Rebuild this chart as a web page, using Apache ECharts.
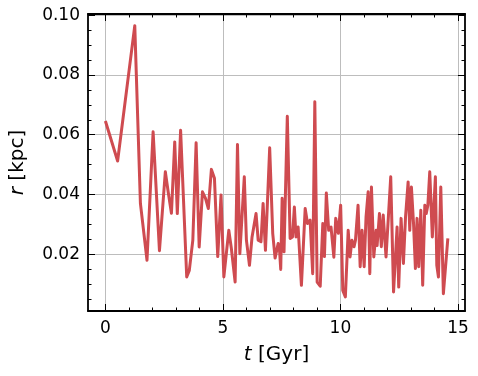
<!DOCTYPE html>
<html>
<head>
<meta charset="utf-8">
<script src="https://cdn.jsdelivr.net/npm/echarts@6/dist/echarts.min.js"></script>
<style>
html, body { margin: 0; padding: 0; background: #fff; }
#chart { width: 478px; height: 376px; }
</style>
</head>
<body>
<div id="chart"></div>
<script>
// t [Gyr] and r [kpc]
var times = [0.00, 0.52, 1.25, 1.49, 1.77, 2.03, 2.30, 2.55, 2.68, 2.81, 2.95, 3.06, 3.20, 3.46, 3.57, 3.72, 3.86, 3.99,
  4.13, 4.26, 4.38, 4.51, 4.64, 4.78, 4.92, 5.04, 5.25, 5.36, 5.52, 5.62, 5.72, 5.91, 6.00, 6.13, 6.24, 6.31, 6.41,
  6.50, 6.62, 6.71, 6.81, 6.99, 7.12, 7.22, 7.35, 7.40, 7.46, 7.52, 7.60, 7.74, 7.86, 7.96, 8.04, 8.11, 8.20, 8.34,
  8.50, 8.60, 8.71, 8.82, 8.91, 9.01, 9.14, 9.25, 9.32, 9.40, 9.50, 9.60, 9.72, 9.80, 9.91, 10.01, 10.10, 10.21,
  10.33, 10.41, 10.49, 10.58, 10.64, 10.75, 10.84, 10.92, 11.01, 11.09, 11.18, 11.25, 11.32, 11.42, 11.52, 11.56,
  11.66, 11.74, 11.82, 11.94, 12.02, 12.14, 12.26, 12.41, 12.48, 12.58, 12.68, 12.77, 12.88, 12.95, 13.02, 13.11,
  13.19, 13.26, 13.33, 13.42, 13.50, 13.59, 13.65, 13.72, 13.80, 13.91, 14.04, 14.10, 14.17, 14.27, 14.38, 14.57];
var radii = [0.0646, 0.0512, 0.0965, 0.0370, 0.0180, 0.0610, 0.0212, 0.0476, 0.0404, 0.0337, 0.0576, 0.0336, 0.0615,
  0.0124, 0.0146, 0.0247, 0.0573, 0.0224, 0.0409, 0.0387, 0.0353, 0.0484, 0.0454, 0.0192, 0.0398, 0.0124, 0.0280,
  0.0219, 0.0107, 0.0567, 0.0202, 0.0459, 0.0247, 0.0163, 0.0258, 0.0260, 0.0336, 0.0247, 0.0242, 0.0370, 0.0213,
  0.0556, 0.0269, 0.0187, 0.0236, 0.0225, 0.0149, 0.0387, 0.0208, 0.0662, 0.0253, 0.0258, 0.0358, 0.0258, 0.0291,
  0.0096, 0.0353, 0.0303, 0.0314, 0.0135, 0.0710, 0.0107, 0.0093, 0.0303, 0.0192, 0.0405, 0.0280, 0.0291, 0.0190,
  0.0320, 0.0270, 0.0364, 0.0079, 0.0057, 0.0280, 0.0191, 0.0247, 0.0225, 0.0247, 0.0364, 0.0158, 0.0280, 0.0158,
  0.0325, 0.0409, 0.0135, 0.0425, 0.0191, 0.0280, 0.0229, 0.0336, 0.0225, 0.0331, 0.0191, 0.0191, 0.0459, 0.0074,
  0.0291, 0.0090, 0.0320, 0.0169, 0.0325, 0.0442, 0.0280, 0.0425, 0.0303, 0.0152, 0.0320, 0.0158, 0.0347, 0.0096,
  0.0364, 0.0336, 0.0364, 0.0476, 0.0258, 0.0459, 0.0163, 0.0124, 0.0425, 0.0068, 0.0253];

var xMajor = [0, 5, 10, 15];
var xMinor = [1, 2, 3, 4, 6, 7, 8, 9, 11, 12, 13, 14];
var yMajor = [0.02, 0.04, 0.06, 0.08, 0.10];
var yMinor = [0.005, 0.01, 0.015, 0.025, 0.03, 0.035, 0.045, 0.05, 0.055, 0.065, 0.07, 0.075, 0.085, 0.09, 0.095];

var myChart = echarts.init(document.getElementById('chart'));

var xRange = [-0.74, 15.3];
var yRange = [0.001, 0.1004];
var font = 'DejaVu Sans';

function tickAxis(pos, range, values, len, isMain) {
    return {
        type: 'value',
        position: pos,
        min: range[0],
        max: range[1],
        axisLine: { show: isMain, onZero: false, lineStyle: { color: '#000', width: 1.8 } },
        axisTick: { show: true, inside: true, length: len, customValues: values, lineStyle: { color: '#000', width: 1 } },
        axisLabel: { show: false },
        splitLine: { show: false }
    };
}

var xMain = tickAxis('bottom', xRange, xMajor, 7, true);
xMain.axisLabel = { show: true, customValues: xMajor, margin: 9, fontFamily: font, fontSize: 17, color: '#000' };
xMain.splitLine = { show: true, lineStyle: { color: '#bdbdbd', width: 1 } };
xMain.name = '{i|t} [Gyr]';
xMain.nameLocation = 'middle';
xMain.nameGap = 34;
xMain.nameTextStyle = { fontFamily: font, fontSize: 20, color: '#000', rich: { i: { fontFamily: font, fontSize: 20, fontStyle: 'italic' } } };

var yMain = tickAxis('left', yRange, yMajor, 7, true);
yMain.axisLabel = { show: true, customValues: yMajor, margin: 8, fontFamily: font, fontSize: 17, color: '#000',
    formatter: function (v) { return v.toFixed(2); } };
yMain.splitLine = { show: true, lineStyle: { color: '#bdbdbd', width: 1 } };
yMain.name = '{i|r} [kpc]';
yMain.nameLocation = 'middle';
yMain.nameGap = 60;
yMain.nameTextStyle = { fontFamily: font, fontSize: 20, color: '#000', rich: { i: { fontFamily: font, fontSize: 20, fontStyle: 'italic' } } };

var points = times.map(function (t, i) { return [t, radii[i]]; });

var option = {
    backgroundColor: '#fff',
    animation: false,
    grid: { left: 88, right: 13, top: 14, bottom: 65, containLabel: false },
    xAxis: [
        xMain,
        tickAxis('bottom', xRange, xMinor, 3.5, false),
        tickAxis('top', xRange, xMajor, 7, true),
        tickAxis('top', xRange, xMinor, 3.5, false)
    ],
    yAxis: [
        yMain,
        tickAxis('left', yRange, yMinor, 3.5, false),
        tickAxis('right', yRange, yMajor, 7, true),
        tickAxis('right', yRange, yMinor, 3.5, false)
    ],
    series: [{
        type: 'line',
        xAxisIndex: 0,
        yAxisIndex: 0,
        data: points,
        showSymbol: false,
        symbol: 'none',
        lineStyle: { color: '#cf4b50', width: 3, join: 'round' },
        z: 3
    }]
};

myChart.setOption(option);

window.addEventListener('resize', function () {
    myChart.resize();
});
</script>
</body>
</html>
